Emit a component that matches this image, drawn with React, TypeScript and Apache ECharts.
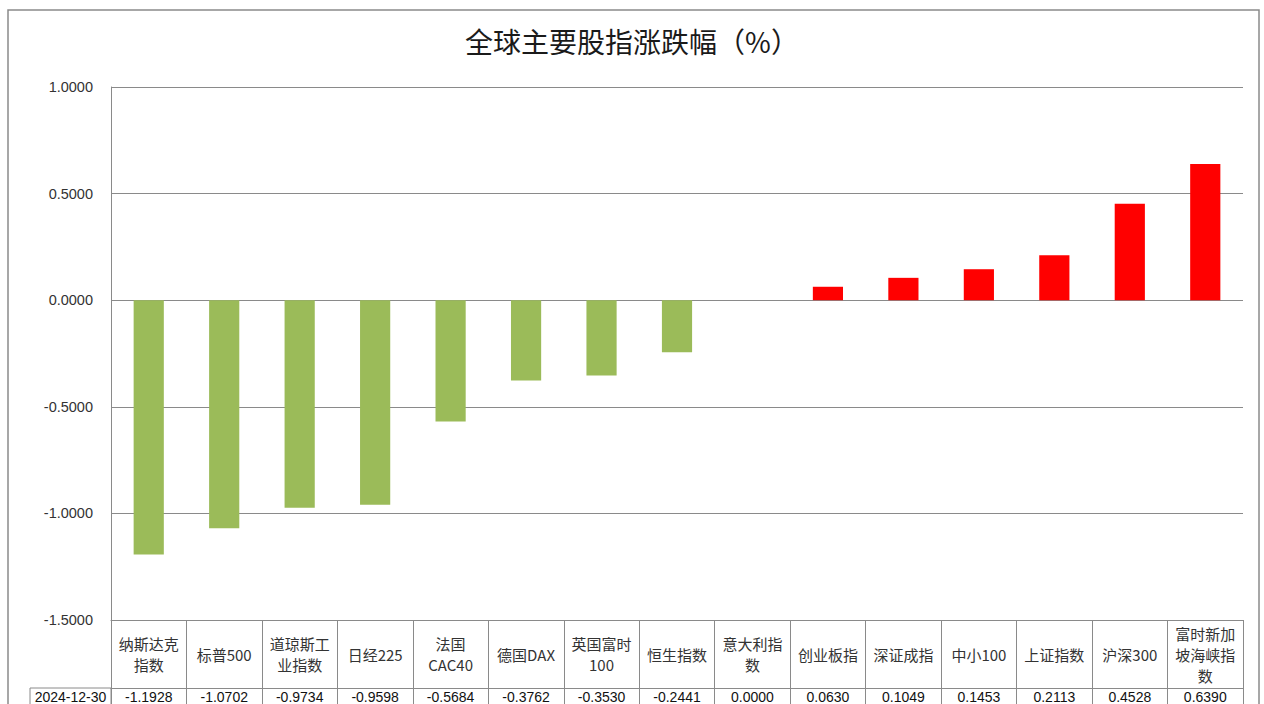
import React, { useEffect, useRef } from "react";
import * as echarts from "echarts";

const titleText = "全球主要股指涨跌幅（%）";
const seriesName = "2024-12-30";
const categories = [
  "纳斯达克指数",
  "标普500",
  "道琼斯工业指数",
  "日经225",
  "法国CAC40",
  "德国DAX",
  "英国富时100",
  "恒生指数",
  "意大利指数",
  "创业板指",
  "深证成指",
  "中小100",
  "上证指数",
  "沪深300",
  "富时新加坡海峡指数",
];
const values = [
  -1.1928, -1.0702, -0.9734, -0.9598, -0.5684, -0.3762, -0.353, -0.2441, 0.0,
  0.063, 0.1049, 0.1453, 0.2113, 0.4528, 0.639,
];
const yMin = -1.5;
const yMax = 1.0;
const yStep = 0.5;

const LINE = "#8a8a8a";
const FONT = "'Noto Sans CJK SC', 'Liberation Sans', sans-serif";

const fmt4 = (v: number) => (Math.abs(v) < 1e-9 ? 0 : v).toFixed(4);

export default function App() {
  const ref = useRef<HTMLDivElement>(null);
  useEffect(() => {
    if (!ref.current) return;
    const chart = echarts.init(ref.current, undefined, { renderer: "svg" });
    const option: any = {
      animation: false,
      backgroundColor: "#ffffff",
      textStyle: { fontFamily: FONT },
      title: {
        text: titleText,
        left: "center",
        top: 22,
        textStyle: {
          fontSize: 28,
          fontWeight: "normal",
          color: "#1a1a1a",
          fontFamily: FONT,
        },
      },
      grid: { left: 111, right: 21, top: 87, bottom: 84, containLabel: false },
      xAxis: [
        {
          type: "category",
          data: categories,
          position: "bottom",
          boundaryGap: true,
          axisLine: { show: true, onZero: false, lineStyle: { color: LINE, width: 1 } },
          axisTick: {
            show: true,
            interval: 0,
            length: 68,
            lineStyle: { color: LINE, width: 1 },
          },
          axisLabel: {
            interval: 0,
            margin: 34,
            verticalAlign: "middle",
            width: 64,
            overflow: "break",
            lineHeight: 21,
            fontSize: 15,
            color: "#333333",
            fontFamily: FONT,
          },
          splitLine: { show: false },
        },
        {
          type: "category",
          data: categories,
          position: "bottom",
          offset: 68,
          boundaryGap: true,
          axisLine: { show: true, onZero: false, lineStyle: { color: LINE, width: 1 } },
          axisTick: {
            show: true,
            interval: 0,
            length: 30,
            lineStyle: { color: LINE, width: 1 },
          },
          axisLabel: {
            interval: 0,
            margin: 9,
            verticalAlign: "middle",
            fontSize: 14,
            color: "#111111",
            fontFamily: "'Liberation Sans', sans-serif",
            formatter: (_v: string, i: number) => fmt4(values[i]),
          },
          splitLine: { show: false },
        },
      ],
      yAxis: {
        type: "value",
        min: yMin,
        max: yMax,
        interval: yStep,
        axisLine: { show: true, lineStyle: { color: LINE, width: 1 } },
        axisTick: { show: false },
        axisLabel: {
          margin: 18,
          fontSize: 14.5,
          color: "#333333",
          fontFamily: "'Liberation Sans', sans-serif",
          formatter: (v: number) => fmt4(Number(v)),
        },
        splitLine: { show: true, lineStyle: { color: LINE, width: 1 } },
      },
      series: [
        {
          name: seriesName,
          type: "bar",
          xAxisIndex: 0,
          data: values,
          barWidth: "40%",
          itemStyle: {
            color: (p: any) => (p.value >= 0 ? "#ff0000" : "#9bbb59"),
          },
        },
      ],
      graphic: [
        {
          type: "rect",
          shape: { x: 8, y: 10, width: 1251, height: 720 },
          style: { fill: "none", stroke: LINE, lineWidth: 1.5 },
          silent: true,
        },
        {
          type: "rect",
          shape: { x: 30, y: 688, width: 81, height: 30 },
          style: { fill: "none", stroke: LINE, lineWidth: 1 },
          silent: true,
        },
        {
          type: "text",
          x: 70.5,
          y: 697,
          style: {
            text: seriesName,
            fontSize: 14,
            fill: "#111111",
            fontFamily: "'Liberation Sans', sans-serif",
            align: "center",
            verticalAlign: "middle",
          },
          silent: true,
        },
      ],
    };
    chart.setOption(option);
    return () => chart.dispose();
  }, []);
  return (
    <div
      ref={ref}
      style={{ position: "absolute", left: 0, top: 0, width: 1264, height: 704 }}
    />
  );
}
